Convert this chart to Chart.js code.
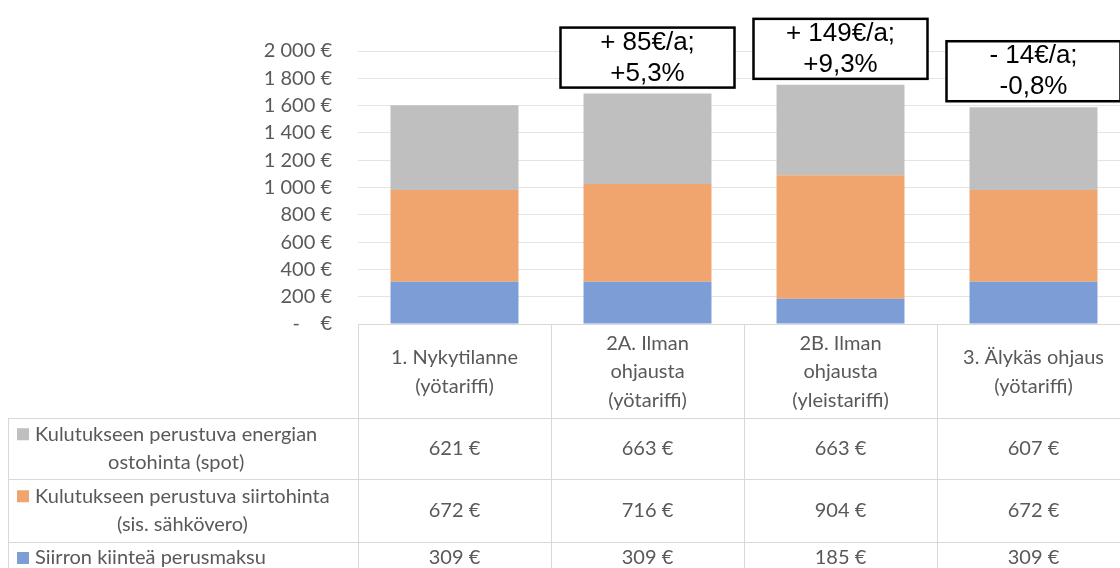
<!DOCTYPE html>
<html lang="fi">
<head>
<meta charset="utf-8"/>
<title>Sähkön vuosikustannukset</title>
<script src="https://cdn.jsdelivr.net/npm/chart.js"></script>
<style>
  html, body { margin: 0; padding: 0; background: #fff; overflow: hidden; }
  #kehys { width: 1120px; height: 568px; overflow: hidden; }
</style>
</head>
<body>
<div id="kehys"><canvas id="kaavio" width="1132" height="568"></canvas></div>
<script>
  // Data
  const kategoriat = [
    ['1. Nykytilanne', '(yötariffi)'],
    ['2A. Ilman', 'ohjausta', '(yötariffi)'],
    ['2B. Ilman', 'ohjausta', '(yleistariffi)'],
    ['3. Älykäs ohjaus', '(yötariffi)']
  ];
  const energia = [621, 663, 663, 607];
  const siirto = [672, 716, 904, 672];
  const perusmaksu = [309, 309, 185, 309];
  const sarjaNimet = {
    energia: ['Kulutukseen perustuva energian', 'ostohinta (spot)'],
    siirto: ['Kulutukseen perustuva siirtohinta', '(sis. sähkövero)'],
    perusmaksu: ['Siirron kiinteä perusmaksu']
  };
  const muutokset = [null, ['+ 85€/a;', '+5,3%'], ['+ 149€/a;', '+9,3%'], ['- 14€/a;', '-0,8%']];
  const yMax = 2000;
  const yAskel = 200;

  const varit = { energia: '#bfbfbf', siirto: '#f0a46e', perusmaksu: '#7c9dd5' };
  const fontti = 'Lato, "Open Sans", sans-serif';
  const harmaa = '#595959';
  const viiva = '#d9d9d9';

  function euro(v) {
    if (v === 0) return '-    €';
    return String(v).replace(/\B(?=(\d{3})+(?!\d))/g, ' ') + ' €';
  }

  // Datataulukko kaavion alle
  const taulukko = {
    id: 'taulukko',
    afterDraw(chart) {
      const ctx = chart.ctx;
      const x = chart.scales.x;
      const a = chart.chartArea;
      const n = kategoriat.length;
      const sarW = (a.right - a.left) / n;
      const vasen = 8;
      const otsAla = a.bottom + 94;
      const rivit = [
        { arvot: energia, nimi: sarjaNimet.energia, vari: varit.energia, y0: otsAla, y1: otsAla + 61 },
        { arvot: siirto, nimi: sarjaNimet.siirto, vari: varit.siirto, y0: otsAla + 61, y1: otsAla + 124 },
        { arvot: perusmaksu, nimi: sarjaNimet.perusmaksu, vari: varit.perusmaksu, y0: otsAla + 124, y1: otsAla + 156 }
      ];

      ctx.save();
      ctx.strokeStyle = viiva;
      ctx.lineWidth = 1;
      ctx.beginPath();
      for (let i = 0; i <= n; i++) {
        const px = Math.round(a.left + i * sarW) + 0.5;
        ctx.moveTo(px, a.bottom);
        ctx.lineTo(px, chart.height);
      }
      ctx.moveTo(vasen + 0.5, otsAla);
      ctx.lineTo(vasen + 0.5, chart.height);
      rivit.forEach(r => {
        ctx.moveTo(vasen, Math.round(r.y0) + 0.5);
        ctx.lineTo(chart.width, Math.round(r.y0) + 0.5);
      });
      ctx.stroke();

      ctx.fillStyle = harmaa;
      ctx.font = '20px ' + fontti;
      ctx.textAlign = 'center';
      ctx.textBaseline = 'middle';
      const rivinKorkeus = 28.5;

      // sarakeotsikot
      kategoriat.forEach((k, i) => {
        const cx = x.getPixelForValue(i);
        const keski = (a.bottom + otsAla) / 2 + 1;
        k.forEach((t, j) => {
          ctx.fillText(t, cx, keski + (j - (k.length - 1) / 2) * rivinKorkeus);
        });
      });

      // rivit
      rivit.forEach(r => {
        const keski = (r.y0 + r.y1) / 2;
        const eka = r.nimi.length > 1 ? keski - rivinKorkeus / 2 : keski;
        ctx.fillStyle = r.vari;
        ctx.fillRect(17, eka - 6, 12, 12);
        ctx.fillStyle = harmaa;
        const leveys = ctx.measureText(r.nimi[0]).width;
        const tx = 35 + leveys / 2;
        r.nimi.forEach((t, j) => ctx.fillText(t, tx, eka + j * rivinKorkeus));
        r.arvot.forEach((v, i) => ctx.fillText(euro(v), x.getPixelForValue(i), keski));
      });
      ctx.restore();
    }
  };

  // Muutoslaatikot pylväiden yläpuolelle
  const muutosLaatikot = {
    id: 'muutosLaatikot',
    afterDatasetsDraw(chart) {
      const ctx = chart.ctx;
      const ylin = chart.getDatasetMeta(chart.data.datasets.length - 1);
      ctx.save();
      muutokset.forEach((m, i) => {
        if (!m) return;
        const el = ylin.data[i];
        const w = 174, h = 60;
        const ala = el.y - 6;
        const yla = ala - h;
        const vx = el.x - w / 2;
        ctx.fillStyle = '#fff';
        ctx.fillRect(vx, yla, w, h);
        ctx.strokeStyle = '#000';
        ctx.lineWidth = 2.5;
        ctx.strokeRect(vx, yla, w, h);
        ctx.fillStyle = '#000';
        ctx.font = '26px "Liberation Sans", Arial, sans-serif';
        ctx.textAlign = 'center';
        ctx.textBaseline = 'middle';
        ctx.fillText(m[0], el.x, yla + 15);
        ctx.fillText(m[1], el.x, yla + 46);
      });
      ctx.restore();
    }
  };

  new Chart(document.getElementById('kaavio'), {
    type: 'bar',
    data: {
      labels: kategoriat,
      datasets: [
        { label: sarjaNimet.perusmaksu.join(' '), data: perusmaksu, backgroundColor: varit.perusmaksu },
        { label: sarjaNimet.siirto.join(' '), data: siirto, backgroundColor: varit.siirto },
        { label: sarjaNimet.energia.join(' '), data: energia, backgroundColor: varit.energia }
      ]
    },
    options: {
      responsive: false,
      animation: false,
      layout: { padding: { left: 0, right: 2, top: 51, bottom: 0 } },
      datasets: { bar: { categoryPercentage: 1, barPercentage: 0.663 } },
      plugins: { legend: { display: false }, tooltip: { enabled: false } },
      scales: {
        x: {
          stacked: true,
          ticks: { display: false },
          grid: { display: false },
          border: { display: true, color: viiva, width: 1 },
          afterFit(s) { s.height = 244; }
        },
        y: {
          stacked: true,
          min: 0,
          max: yMax,
          ticks: {
            stepSize: yAskel,
            padding: 26,
            color: harmaa,
            font: { family: fontti, size: 20 },
            callback: v => euro(v)
          },
          grid: { color: '#e4e4e4', drawTicks: false },
          border: { display: false },
          afterFit(s) { s.width = 358; }
        }
      }
    },
    plugins: [muutosLaatikot, taulukko]
  });
</script>
</body>
</html>
